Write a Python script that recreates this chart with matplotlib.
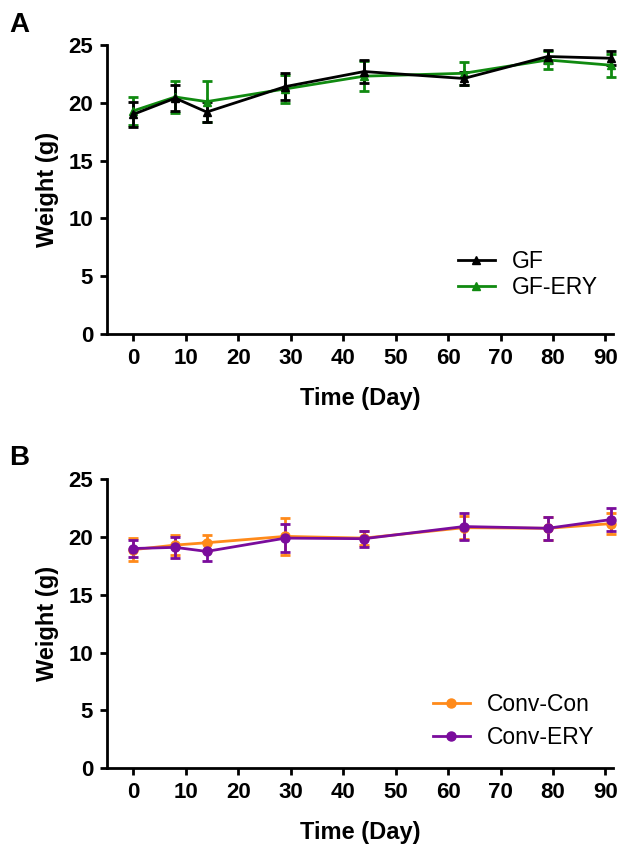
import matplotlib
matplotlib.use("Agg")
import matplotlib.pyplot as plt
from matplotlib.lines import Line2D

plt.rcParams['font.family'] = ['Liberation Sans', 'DejaVu Sans']

days = [0, 8, 14, 29, 44, 63, 79, 91]

gf_mean = [19.0, 20.4, 19.2, 21.4, 22.7, 22.1, 24.0, 23.85]
gf_err = [1.1, 1.1, 0.9, 1.2, 1.0, 0.6, 0.6, 0.6]
gfery_mean = [19.3, 20.5, 20.1, 21.2, 22.3, 22.55, 23.7, 23.25]
gfery_err = [1.2, 1.4, 1.8, 1.2, 1.3, 1.0, 0.8, 1.0]

con_mean = [18.9, 19.3, 19.5, 20.05, 19.9, 20.8, 20.75, 21.15]
con_err = [1.0, 0.9, 0.7, 1.6, 0.6, 1.0, 1.0, 0.9]
ery_mean = [19.0, 19.1, 18.75, 19.9, 19.85, 20.9, 20.75, 21.5]
ery_err = [0.7, 0.9, 0.8, 1.2, 0.7, 1.2, 1.0, 1.0]

xticks = [0, 10, 20, 30, 40, 50, 60, 70, 80, 90]
yticks = [0, 5, 10, 15, 20, 25]

C_GF = '#000000'
C_GFERY = '#108a10'
C_CON = '#FF8A1A'
C_ERY = '#7A0C9C'

fig = plt.figure(figsize=(6.37, 8.48), dpi=100)
axA = fig.add_axes([0.168, 0.606, 0.794, 0.341])
axB = fig.add_axes([0.168, 0.094, 0.794, 0.341])


def style(ax):
    ax.set_xlim(-5, 91.4)
    ax.set_ylim(0, 25)
    ax.set_xticks(xticks)
    ax.set_yticks(yticks)
    for s in ['top', 'right']:
        ax.spines[s].set_visible(False)
    for s in ['left', 'bottom']:
        ax.spines[s].set_linewidth(2)
    ax.tick_params(width=2, length=5, labelsize=16, pad=5)
    for lab in ax.get_xticklabels() + ax.get_yticklabels():
        lab.set_fontweight('bold')
    ax.set_xlabel('Time (Day)', fontsize=17, fontweight='bold', labelpad=13)
    ax.set_ylabel('Weight (g)', fontsize=17, fontweight='bold', labelpad=7)


def series(ax, y, e, color, marker, ms):
    ax.errorbar(days, y, yerr=e, color=color, marker=marker, ms=ms, lw=2,
                elinewidth=2, capsize=3.5, capthick=2, clip_on=False)


series(axA, gfery_mean, gfery_err, C_GFERY, '^', 6)
series(axA, gf_mean, gf_err, C_GF, '^', 6)
series(axB, con_mean, con_err, C_CON, 'o', 6.5)
series(axB, ery_mean, ery_err, C_ERY, 'o', 6.5)

for ax in (axA, axB):
    style(ax)

hA = [Line2D([], [], color=C_GF, marker='^', ms=6, lw=2),
      Line2D([], [], color=C_GFERY, marker='^', ms=6, lw=2)]
axA.legend(hA, ['GF', 'GF-ERY'], loc='upper left',
           bbox_to_anchor=(458 / 637, 1 - 250 / 848), bbox_transform=fig.transFigure,
           frameon=False, fontsize=16.5, handlelength=1.6, handletextpad=0.75,
           labelspacing=0.15, borderpad=0, borderaxespad=0)
hB = [Line2D([], [], color=C_CON, marker='o', ms=6.5, lw=2),
      Line2D([], [], color=C_ERY, marker='o', ms=6.5, lw=2)]
axB.legend(hB, ['Conv-Con', 'Conv-ERY'], loc='upper left',
           bbox_to_anchor=(433 / 637, 1 - 693 / 848), bbox_transform=fig.transFigure,
           frameon=False, fontsize=16.5, handlelength=1.6, handletextpad=0.75,
           labelspacing=0.45, borderpad=0, borderaxespad=0)

fig.text(0.015, 0.962, 'A', fontsize=20, fontweight='bold')
fig.text(0.015, 0.452, 'B', fontsize=20, fontweight='bold')

fig.savefig('out.png', dpi=100)
